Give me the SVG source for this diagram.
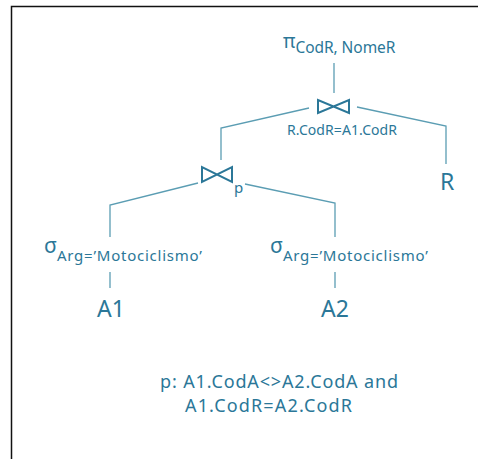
<svg xmlns="http://www.w3.org/2000/svg" width="478" height="459" viewBox="0 0 478 459">
<style>
.t{font-family:"Noto Sans","DejaVu Sans",sans-serif;fill:#2b7798}
.c{fill:none;stroke:#5b9db3;stroke-width:1.3}
.j{fill:none;stroke:#2b7798;stroke-width:2;stroke-linejoin:miter}
</style>
<rect width="478" height="459" fill="#fff"/>
<path d="M11.5 459V6.5H478" fill="none" stroke="#111" stroke-width="1.5"/>
<g id="connectors">
<path class="c" d="M334 63V93"/>
<path class="c" d="M309 108L221 128V160"/>
<path class="c" d="M357 107L446 126V164"/>
<path class="c" d="M198 183L110 205V237"/>
<path class="c" d="M245 184L335 203V237"/>
<path class="c" d="M110 272V288"/>
<path class="c" d="M335 272V288"/>
</g>
<g id="proj">
<text class="t" x="283" y="48" font-size="19">π<tspan font-size="15.5" dy="5" textLength="100">CodR, NomeR</tspan></text>
</g>
<g id="join1">
<path class="j" d="M318 100V113L349 100V113Z"/>
<text class="t" x="287" y="135" font-size="14" textLength="110">R.CodR=A1.CodR</text>
</g>
<g id="R">
<text class="t" x="440" y="190" font-size="23">R</text>
</g>
<g id="join2">
<path class="j" d="M202 167V182L232 167V182Z"/>
<text class="t" x="234" y="193" font-size="15">p</text>
</g>
<g id="sel1">
<text class="t" x="44" y="253" font-size="21">σ<tspan font-size="15" dy="8" textLength="145">Arg=’Motociclismo’</tspan></text>
</g>
<g id="sel2">
<text class="t" x="270" y="253" font-size="21">σ<tspan font-size="15" dy="8" textLength="145">Arg=’Motociclismo’</tspan></text>
</g>
<g id="A1">
<text class="t" x="97" y="317" font-size="23">A1</text>
</g>
<g id="A2">
<text class="t" x="321" y="317" font-size="23">A2</text>
</g>
<g id="note">
<text class="t" x="160" y="388" font-size="18" textLength="238">p: A1.CodA&lt;&gt;A2.CodA and</text>
<text class="t" x="185" y="412" font-size="18" textLength="167">A1.CodR=A2.CodR</text>
</g>
</svg>
